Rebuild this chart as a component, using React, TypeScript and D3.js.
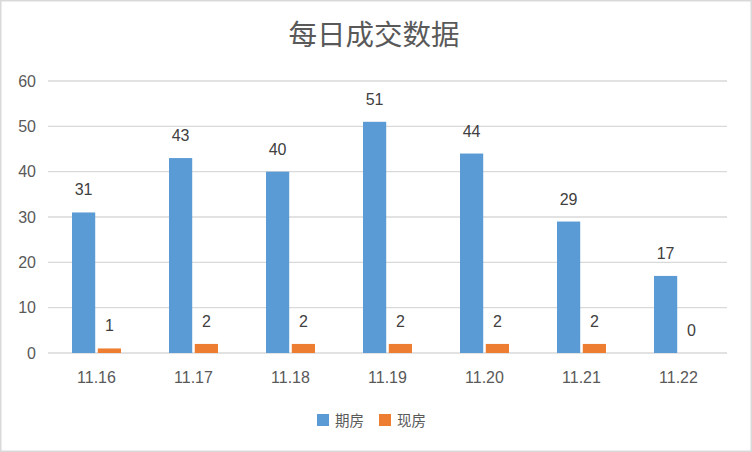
import React, { useRef, useEffect } from "react";
import * as d3 from "d3";

const categories = ["11.16", "11.17", "11.18", "11.19", "11.20", "11.21", "11.22"];
const futures = [31, 43, 40, 51, 44, 29, 17]; // 期房
const existing = [1, 2, 2, 2, 2, 2, 0]; // 现房
const yTicks = [0, 10, 20, 30, 40, 50, 60];
const seriesNames = ["期房", "现房"];
const colors = ["#5b9bd5", "#ed7d31"];

const width = 752;
const height = 452;

const BarChart = () => {
  const svgRef = useRef(null);

  useEffect(() => {
    const svg = d3.select(svgRef.current);
    svg.selectAll("*").remove();

    const left = 48;
    const right = 727;
    const top = 81;
    const bottom = 353;
    const numFont = "'Liberation Sans', 'Noto Sans CJK SC', sans-serif";
    const cjkFont = "'Noto Sans CJK SC', sans-serif";
    const textColor = "#595959";

    // border
    svg
      .append("rect")
      .attr("x", 0.75)
      .attr("y", 0.75)
      .attr("width", width - 1.5)
      .attr("height", height - 1.5)
      .attr("fill", "#fff")
      .attr("stroke", "#d9d9d9")
      .attr("stroke-width", 1.5);

    const x0 = d3.scaleBand().domain(categories).range([left, right]);
    const x1 = d3.scaleBand().domain(["0", "1"]).range([0, 49]).paddingInner(0.1);
    const y = d3.scaleLinear().domain([0, 60]).range([bottom, top]);

    // gridlines
    svg
      .append("g")
      .selectAll("line")
      .data(yTicks)
      .join("line")
      .attr("x1", left)
      .attr("x2", right)
      .attr("y1", (d) => y(d))
      .attr("y2", (d) => y(d))
      .attr("stroke", "#d9d9d9")
      .attr("stroke-width", 1.3);

    // y labels
    svg
      .append("g")
      .selectAll("text")
      .data(yTicks)
      .join("text")
      .attr("x", 36)
      .attr("y", (d) => y(d) + 5.5)
      .attr("text-anchor", "end")
      .style("font-family", numFont)
      .style("font-size", "16px")
      .style("fill", textColor)
      .text((d) => d);

    // x labels
    svg
      .append("g")
      .selectAll("text")
      .data(categories)
      .join("text")
      .attr("x", (d) => x0(d) + x0.bandwidth() / 2)
      .attr("y", 383)
      .attr("text-anchor", "middle")
      .style("font-family", numFont)
      .style("font-size", "16px")
      .style("fill", textColor)
      .text((d) => d);

    const offset = (x0.bandwidth() - 49) / 2;

    [futures, existing].forEach((values, s) => {
      const g = svg.append("g");
      g.selectAll("rect")
        .data(values)
        .join("rect")
        .attr("x", (d, i) => x0(categories[i]) + offset + x1(String(s)))
        .attr("y", (d) => y(d))
        .attr("width", x1.bandwidth())
        .attr("height", (d) => y(0) - y(d))
        .attr("fill", colors[s]);

      // value labels
      g.selectAll("text")
        .data(values)
        .join("text")
        .attr("x", (d, i) => x0(categories[i]) + offset + x1(String(s)) + x1.bandwidth() / 2)
        .attr("y", (d) => y(d) - 17)
        .attr("text-anchor", "middle")
        .style("font-family", numFont)
        .style("font-size", "16px")
        .style("fill", "#404040")
        .text((d) => d);
    });

    // title
    svg
      .append("text")
      .attr("x", 374)
      .attr("y", 45)
      .attr("text-anchor", "middle")
      .style("font-family", cjkFont)
      .style("font-size", "28.5px")
      .style("fill", textColor)
      .text("每日成交数据");

    // legend
    const legendX = [317, 379];
    seriesNames.forEach((name, i) => {
      svg
        .append("rect")
        .attr("x", legendX[i])
        .attr("y", 414)
        .attr("width", 12)
        .attr("height", 12)
        .attr("fill", colors[i]);
      svg
        .append("text")
        .attr("x", legendX[i] + 18)
        .attr("y", 426)
        .style("font-family", cjkFont)
        .style("font-size", "14.5px")
        .style("fill", textColor)
        .text(name);
    });
  }, []);

  return <svg ref={svgRef} width={width} height={height} style={{ display: "block" }} />;
};

export default function App() {
  return (
    <>
      <style>{`body{margin:0}`}</style>
      <BarChart />
    </>
  );
}
